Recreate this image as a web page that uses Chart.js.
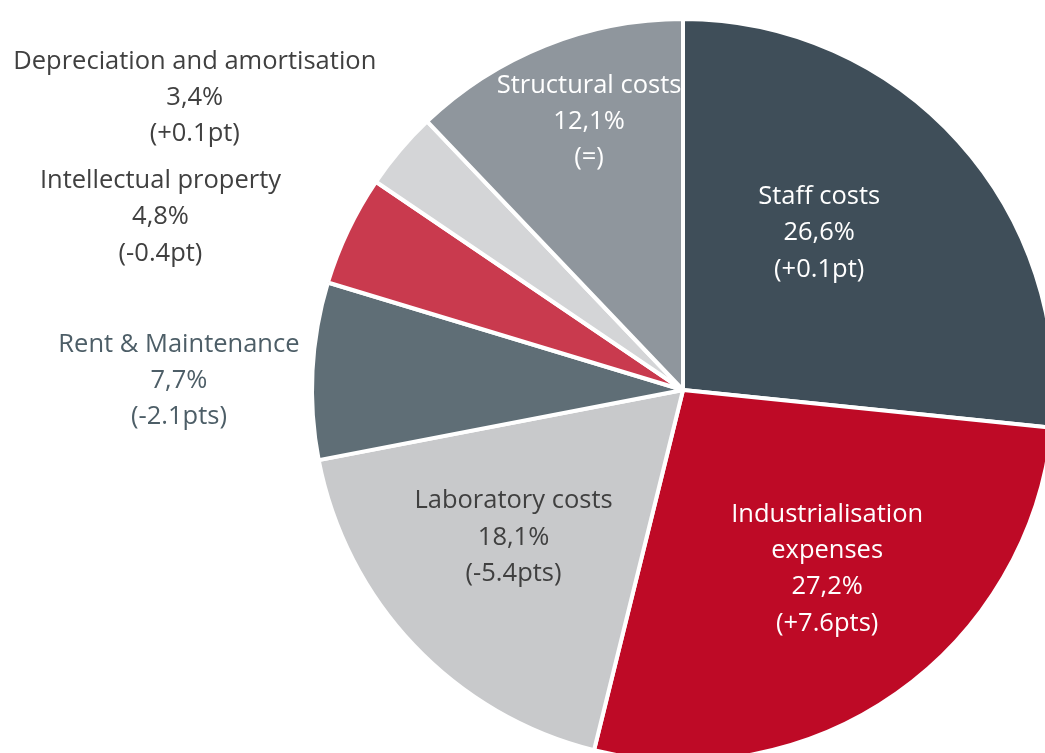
<!DOCTYPE html>
<html>
<head>
<meta charset="utf-8">
<script src="https://cdn.jsdelivr.net/npm/chart.js@4"></script>
<style>
    html, body { margin: 0; padding: 0; background: #fff; overflow: hidden; }
    #wrap { position: absolute; left: 0; top: 0; width: 1070px; height: 780px; }
</style>
</head>
<body>
<div id="wrap"><canvas id="costChart" width="1070" height="780"></canvas></div>
<script>
// Datos: reparto de costes (sentido horario desde las 12)
const categories = [
    ['Staff costs'],
    ['Industrialisation', 'expenses'],
    ['Laboratory costs'],
    ['Rent & Maintenance'],
    ['Intellectual property'],
    ['Depreciation and amortisation'],
    ['Structural costs']
];
const shares = [26.6, 27.2, 18.1, 7.7, 4.8, 3.4, 12.1];
const shareLabels = ['26,6%', '27,2%', '18,1%', '7,7%', '4,8%', '3,4%', '12,1%'];
const changeLabels = ['(+0.1pt)', '(+7.6pts)', '(-5.4pts)', '(-2.1pts)', '(-0.4pt)', '(+0.1pt)', '(=)'];

// Estilos
const sliceColors = ['#3f4e59', '#be0a26', '#c8c9cb', '#5f6e76', '#c93a4e', '#d4d5d7', '#8f969d'];
const textColors = ['#ffffff', '#ffffff', '#404040', '#4d5e67', '#404040', '#404040', '#ffffff'];
// posición de la etiqueta: [desplazamiento angular en grados, fracción del radio]
const labelPlacement = [[-7.5, 0.566], [-4.2, 0.613], [3.1, 0.60], [-1.6, 1.359], [-6.9, 1.486], [-9.1, 1.538], [2.7, 0.774]];

const FONT = '25.5px "Open Sans", sans-serif';
const LINE_HEIGHT = 36.3;
const TEXT_SHIFT = 3; // compensar la línea base

const sliceLabels = {
    id: 'sliceLabels',
    afterDatasetsDraw(chart) {
        const ctx = chart.ctx;
        const meta = chart.getDatasetMeta(0);
        ctx.save();
        ctx.font = FONT;
        ctx.textAlign = 'center';
        ctx.textBaseline = 'middle';
        meta.data.forEach((arc, i) => {
            const p = arc.getProps(['x', 'y', 'startAngle', 'endAngle', 'outerRadius'], true);
            const mid = (p.startAngle + p.endAngle) / 2 + labelPlacement[i][0] * Math.PI / 180;
            const r = p.outerRadius * labelPlacement[i][1];
            const cx = p.x + Math.cos(mid) * r;
            const cy = p.y + Math.sin(mid) * r + TEXT_SHIFT;
            const lines = [...categories[i], shareLabels[i], changeLabels[i]];
            const top = cy - (lines.length - 1) * LINE_HEIGHT / 2;
            ctx.fillStyle = textColors[i];
            lines.forEach((line, k) => ctx.fillText(line, cx, top + k * LINE_HEIGHT));
        });
        ctx.restore();
    }
};

new Chart(document.getElementById('costChart').getContext('2d'), {
    type: 'pie',
    data: {
        labels: categories.map(c => c.join(' ')),
        datasets: [{
            data: shares,
            backgroundColor: sliceColors,
            borderColor: '#ffffff',
            borderWidth: 4
        }]
    },
    options: {
        responsive: false,
        animation: false,
        radius: 371,
        layout: { padding: { left: 303, right: 7, top: 10, bottom: 10 } },
        plugins: {
            legend: { display: false },
            tooltip: { enabled: false }
        }
    },
    plugins: [sliceLabels]
});
</script>
</body>
</html>
